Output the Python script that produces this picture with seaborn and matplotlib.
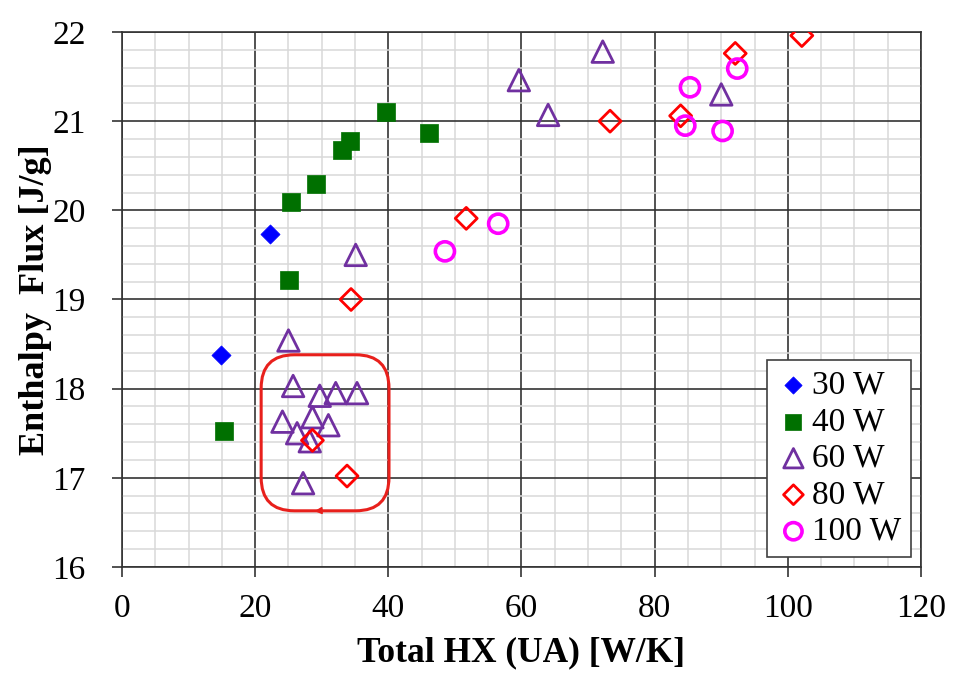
import numpy as np
import pandas as pd
import matplotlib
matplotlib.use("Agg")
import matplotlib.pyplot as plt
from matplotlib.patches import FancyBboxPatch
from matplotlib.ticker import MultipleLocator
import seaborn as sns

# values
ua_30 = [22.3, 14.9]
flux_30 = [19.74, 18.38]

ua_40 = [39.6, 46.1, 34.3, 33.1, 29.1, 25.4, 25.1, 15.3]
flux_40 = [21.10, 20.87, 20.78, 20.68, 20.30, 20.09, 19.22, 17.52]

ua_60 = [59.6, 72.2, 64.0, 90.0, 35.1, 25.0, 25.7, 29.7, 32.1, 35.3,
         24.1, 28.6, 31.0, 26.3, 28.2, 27.2]
flux_60 = [21.46, 21.78, 21.07, 21.30, 19.50, 18.54, 18.03, 17.92, 17.95, 17.95,
           17.63, 17.68, 17.59, 17.50, 17.41, 16.94]

ua_80 = [102.1, 92.1, 73.3, 83.9, 51.7, 34.4, 28.6, 33.8]
flux_80 = [21.96, 21.76, 21.00, 21.06, 19.91, 19.00, 17.42, 17.02]

ua_100 = [92.4, 85.3, 84.6, 90.2, 56.5, 48.5]
flux_100 = [21.59, 21.38, 20.95, 20.89, 19.85, 19.54]

series = [
    ("30 W", ua_30, flux_30),
    ("40 W", ua_40, flux_40),
    ("60 W", ua_60, flux_60),
    ("80 W", ua_80, flux_80),
    ("100 W", ua_100, flux_100),
]

# marker, colour, size, filled, edge width
styles = {
    "30 W": ("D", "#0000ff", 95, True, 0.5),
    "40 W": ("s", "#007000", 170, True, 0.5),
    "60 W": ("^", "#7030a0", 240, False, 2.0),
    "80 W": ("D", "#ff0000", 125, False, 2.0),
    "100 W": ("o", "#ff00ff", 190, False, 2.6),
}

sns.set_theme(style="ticks")
plt.rcParams['font.family'] = ['Liberation Serif', 'DejaVu Serif']
plt.rcParams['text.color'] = 'black'
plt.rcParams['axes.labelcolor'] = 'black'
plt.rcParams['xtick.color'] = 'black'
plt.rcParams['ytick.color'] = 'black'

fig = plt.figure(figsize=(9.56, 6.87), dpi=100)
ax = fig.add_axes([0.1276, 0.1747, 0.8358, 0.7787])

for name, xs, ys in series:
    df = pd.DataFrame({"ua": xs, "flux": ys})
    marker, color, size, filled, lw = styles[name]
    face = color if filled else "none"
    sns.scatterplot(data=df, x="ua", y="flux", ax=ax, marker=marker, s=size,
                    color=color, facecolor=face, edgecolor=color,
                    linewidth=lw, label=name, zorder=3)

ax.set_xlim(0, 120)
ax.set_ylim(16, 22)
ax.xaxis.set_major_locator(MultipleLocator(20))
ax.xaxis.set_minor_locator(MultipleLocator(5))
ax.yaxis.set_major_locator(MultipleLocator(1))
ax.yaxis.set_minor_locator(MultipleLocator(0.2))
ax.grid(which="minor", color="#d9d9d9", linewidth=1.1, zorder=0)
ax.grid(which="major", color="#333333", linewidth=1.2, zorder=1)
ax.set_axisbelow(True)
ax.tick_params(which="major", direction="out", length=7, width=1.2,
               labelsize=24, color="#333333")
ax.tick_params(axis="x", which="major", pad=12)
ax.tick_params(axis="y", which="major", pad=19)
ax.tick_params(which="minor", length=0)
for sp in ax.spines.values():
    sp.set_color("#333333")
    sp.set_linewidth(1.2)

ax.set_xlabel("Total HX (UA) [W/K]", fontsize=25.5, fontweight="bold", labelpad=9)
ax.set_ylabel("Enthalpy  Flux [J/g]", fontsize=26, fontweight="bold", labelpad=0)

# hand-drawn loop round the cluster
loop = FancyBboxPatch((20.9, 16.63), 19.2, 1.75,
                      boxstyle="round,pad=0,rounding_size=5",
                      mutation_aspect=0.075, fill=False, edgecolor="#e8201c",
                      linewidth=2.2, zorder=4)
ax.add_patch(loop)
ax.annotate("", xy=(28.5, 16.625), xytext=(30.5, 16.635),
            arrowprops=dict(arrowstyle="-|>", color="#e8201c", lw=1.2,
                            mutation_scale=10), zorder=4)

leg = ax.legend(loc="lower right", fontsize=24, frameon=True, fancybox=False,
                framealpha=1, edgecolor="#404040", borderaxespad=0.3,
                handletextpad=0.05, handlelength=1.0, labelspacing=0.18,
                borderpad=0.3, markerscale=0.9)
leg.get_frame().set_linewidth(1.2)

fig.savefig("out.png", dpi=100)
